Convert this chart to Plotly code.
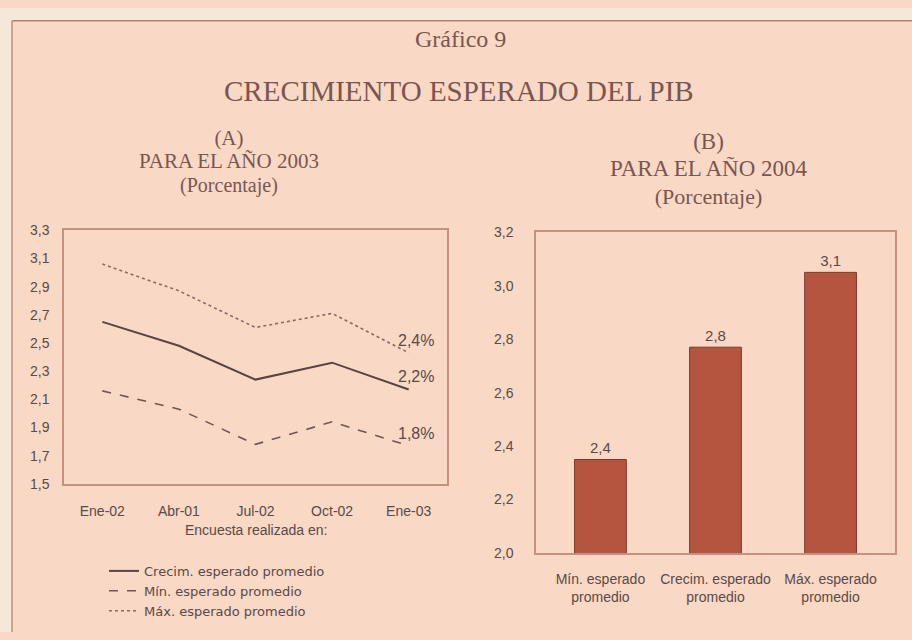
import plotly.graph_objects as go

# ---- data ----
encuesta = ["Ene-02", "Abr-01", "Jul-02", "Oct-02", "Ene-03"]
crecim = [2.65, 2.48, 2.24, 2.36, 2.17]
minimo = [2.16, 2.03, 1.78, 1.94, 1.77]
maximo = [3.06, 2.87, 2.61, 2.71, 2.43]
series_names = ["Crecim. esperado promedio", "Mín. esperado promedio", "Máx. esperado promedio"]
end_labels = ["2,2%", "1,8%", "2,4%"]

bar_cats = ["Mín. esperado<br>promedio", "Crecim. esperado<br>promedio", "Máx. esperado<br>promedio"]
bar_vals = [2.35, 2.77, 3.05]
bar_text = ["2,4", "2,8", "3,1"]

left_yticks = [1.5, 1.7, 1.9, 2.1, 2.3, 2.5, 2.7, 2.9, 3.1, 3.3]
right_yticks = [2.0, 2.2, 2.4, 2.6, 2.8, 3.0, 3.2]

# ---- style ----
BG = "#f9d8c6"
CREAM = "#f5e8d8"
FRAME = "#c8917f"
TXT = "#5a4a48"
TITLE = "#7a5650"
SERIF = "Liberation Serif, DejaVu Serif, serif"
SANS = "Liberation Sans, Arial, sans-serif"
LEG = "DejaVu Sans, Liberation Sans, sans-serif"
W, H = 912, 640


def px(x):
    return x / W


def py(y):
    return 1 - y / H


fig = go.Figure()

line_styles = [
    dict(color="#5a4440", width=2, dash="solid"),
    dict(color="#6e5652", width=1.6, dash="dash"),
    dict(color="#8a6a64", width=1.6, dash="dot"),
]
for name, vals, st in zip(series_names, [crecim, minimo, maximo], line_styles):
    fig.add_trace(go.Scatter(x=encuesta, y=vals, mode="lines", name=name, line=st,
                             xaxis="x", yaxis="y", showlegend=True))

for lab, vals in zip(end_labels, [crecim, minimo, maximo]):
    fig.add_annotation(x=encuesta[-1], y=vals[-1], xref="x", yref="y", text=lab,
                       showarrow=False, xanchor="left", yanchor="bottom", xshift=-13, yshift=2,
                       font=dict(family=SANS, size=16, color=TXT))

fig.add_trace(go.Bar(x=bar_cats, y=bar_vals, text=bar_text, textposition="outside",
                     textfont=dict(family=SANS, size=15, color=TXT),
                     marker=dict(color="#b3553f", line=dict(color="#7d3a2c", width=1)),
                     width=0.45, xaxis="x2", yaxis="y2", showlegend=False, cliponaxis=False))

axis_common = dict(showline=True, mirror=True, linecolor=FRAME, linewidth=1.5,
                   showgrid=False, zeroline=False, ticks="")

fig.update_layout(
    width=W, height=H,
    margin=dict(l=0, r=0, t=0, b=0),
    paper_bgcolor=BG, plot_bgcolor=BG,
    separators=",.",
    font=dict(family=SANS, color=TXT),
    xaxis=dict(domain=[px(64), px(447)], anchor="y", range=[-0.5, 4.5],
               tickfont=dict(family=SANS, size=14, color=TXT), ticklabelstandoff=14,
               **axis_common),
    yaxis=dict(domain=[py(488), py(228)], anchor="x", range=[1.5, 3.3],
               tickvals=left_yticks, tickformat=".1f",
               tickfont=dict(family=SANS, size=14, color=TXT), ticklabelstandoff=10,
               **axis_common),
    xaxis2=dict(domain=[px(536), px(895)], anchor="y2", range=[-0.56, 2.56],
                tickfont=dict(family=SANS, size=14, color=TXT), ticklabelstandoff=12,
                **axis_common),
    yaxis2=dict(domain=[py(559), py(230)], anchor="x2", range=[2.0, 3.2],
                tickvals=right_yticks, tickformat=".1f",
                tickfont=dict(family=SANS, size=14, color=TXT), ticklabelstandoff=18,
                **axis_common),
    legend=dict(x=px(104), y=py(562), xanchor="left", yanchor="top",
                bgcolor="rgba(0,0,0,0)", font=dict(family=LEG, size=13, color=TXT),
                itemwidth=30, tracegroupgap=0),
    showlegend=True,
)

# main titles
fig.add_annotation(x=px(460), y=py(32), xref="paper", yref="paper", text="Gráfico 9",
                   showarrow=False, xanchor="center", yanchor="middle",
                   font=dict(family=SERIF, size=24, color=TITLE))
fig.add_annotation(x=px(459), y=py(85), xref="paper", yref="paper",
                   text="CRECIMIENTO ESPERADO DEL PIB",
                   showarrow=False, xanchor="center", yanchor="middle",
                   font=dict(family=SERIF, size=29, color=TITLE))

# panel titles (three lines each): (label, title, unit, x, y, line-spacing base, sizes)
panel_titles = [
    ("(A)", "PARA EL AÑO 2003", "(Porcentaje)", 229, 157, 18, (21, 21, 20)),
    ("(B)", "PARA EL AÑO 2004", "(Porcentaje)", 709, 165, 21, (23, 23, 22)),
]
for a, b, c, x, y, base, sz in panel_titles:
    txt = ("<span style='font-size:%dpx'>%s</span><br>"
           "<span style='font-size:%dpx'>%s</span><br>"
           "<span style='font-size:%dpx'>%s</span>") % (sz[0], a, sz[1], b, sz[2], c)
    fig.add_annotation(x=px(x), y=py(y), xref="paper", yref="paper", text=txt,
                       showarrow=False, xanchor="center", yanchor="middle", align="center",
                       font=dict(family=SERIF, size=base, color=TITLE))

fig.add_annotation(x=px(256), y=py(535), xref="paper", yref="paper", text="Encuesta realizada en:",
                   showarrow=False, xanchor="center", yanchor="middle",
                   font=dict(family=SANS, size=14, color=TXT))

# page decoration: light outer margin and border lines of the printed box
fig.add_shape(type="rect", xref="paper", yref="paper", x0=0, x1=1, y0=py(13), y1=1,
              fillcolor=CREAM, line=dict(width=0), layer="below")
fig.add_shape(type="rect", xref="paper", yref="paper", x0=0, x1=px(12), y0=0, y1=1,
              fillcolor=CREAM, line=dict(width=0), layer="below")
fig.add_shape(type="line", xref="paper", yref="paper", x0=px(12), x1=1, y0=py(13), y1=py(13),
              line=dict(color="#a88474", width=1.5))
fig.add_shape(type="line", xref="paper", yref="paper", x0=px(12), x1=px(12), y0=0, y1=py(13),
              line=dict(color="#b89080", width=1.5))

fig.write_html("out.html", config={"displayModeBar": False},
               post_script="document.body.style.margin='0';document.body.style.overflow='hidden';")
